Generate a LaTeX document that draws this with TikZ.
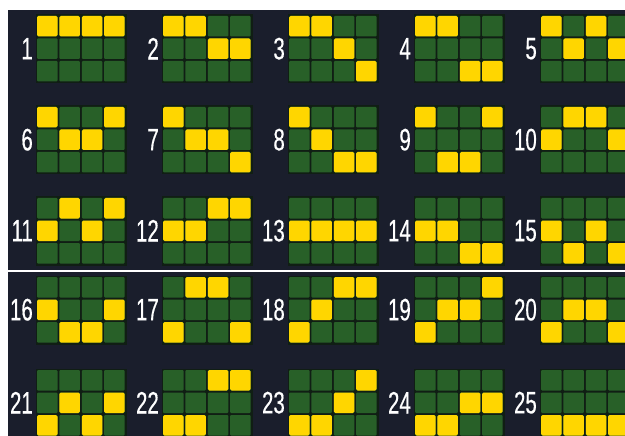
\documentclass[tikz,border=0pt]{standalone}
\usepackage{fontspec}
\newfontfamily\linefont[FakeStretch=0.66,FakeBold=0.4]{Liberation Sans}
\definecolor{bgnavy}{RGB}{26,30,44}
\definecolor{gridback}{RGB}{16,30,20}
\definecolor{cellgreen}{RGB}{40,96,40}
\definecolor{cellyellow}{RGB}{255,214,0}

\begin{document}
\begin{tikzpicture}[x=1pt,y=-1pt,
  cell/.style={fill=cellgreen, rounded corners=1pt},
  hit/.style={fill=cellyellow, rounded corners=1.5pt},
  backing/.style={fill=gridback},
  linenum/.style={anchor=east, text=white, inner sep=0pt,
    font=\linefont\fontsize{31}{31}\selectfont}]

%---------------------------------------
% Frame and background
%---------------------------------------
\useasboundingbox (0,0) rectangle (625,436);
\fill[white] (0,0) rectangle (625,436);
\fill[bgnavy] (8,10) rectangle (625,436);
\fill[white] (0,269.5) rectangle (625,271.5);

%---------------------------------------
% Paylines: row of the lit cell in each reel
%---------------------------------------
\foreach \num/\pat in {1/{1,1,1,1}, 2/{1,1,2,2}, 3/{1,1,2,3}, 4/{1,1,3,3},
    5/{1,2,1,2}, 6/{1,2,2,1}, 7/{1,2,2,3}, 8/{1,2,3,3}, 9/{1,3,3,1},
    10/{2,1,1,2}, 11/{2,1,2,1}, 12/{2,2,1,1}, 13/{2,2,2,2}, 14/{2,2,3,3},
    15/{2,3,2,3}, 16/{2,3,3,2}, 17/{3,1,1,3}, 18/{3,2,1,1}, 19/{3,2,2,1},
    20/{3,2,2,3}, 21/{3,2,3,2}, 22/{3,3,1,1}, 23/{3,3,2,1}, 24/{3,3,2,2},
    25/{3,3,3,3}}
{
  \pgfmathtruncatemacro\c{mod(\num-1,5)}
  \pgfmathtruncatemacro\r{(\num-1)/5}
  \pgfmathsetmacro\px{37+126*\c}
  \pgfmathsetmacro\py{{16,107,198,277,370}[\r]}

  % grid
  \fill[backing] (\px-1.5,\py-1.5) rectangle ++(91.5,69);
  \foreach \i in {0,...,3}
    \foreach \j in {0,1,2}
      \fill[cell] (\px+22.4*\i,\py+22.5*\j) rectangle ++(20.5,20.5);

  % lit cells
  \foreach \rr [count=\k from 0] in \pat
    \fill[hit] (\px+22.4*\k,\py+22.5*\rr-22.5) rectangle ++(20.5,20.5);

  % line number
  \node[linenum] (n\num) at (\px-4,\py+32.7) {\num};
}

\end{tikzpicture}
\end{document}
